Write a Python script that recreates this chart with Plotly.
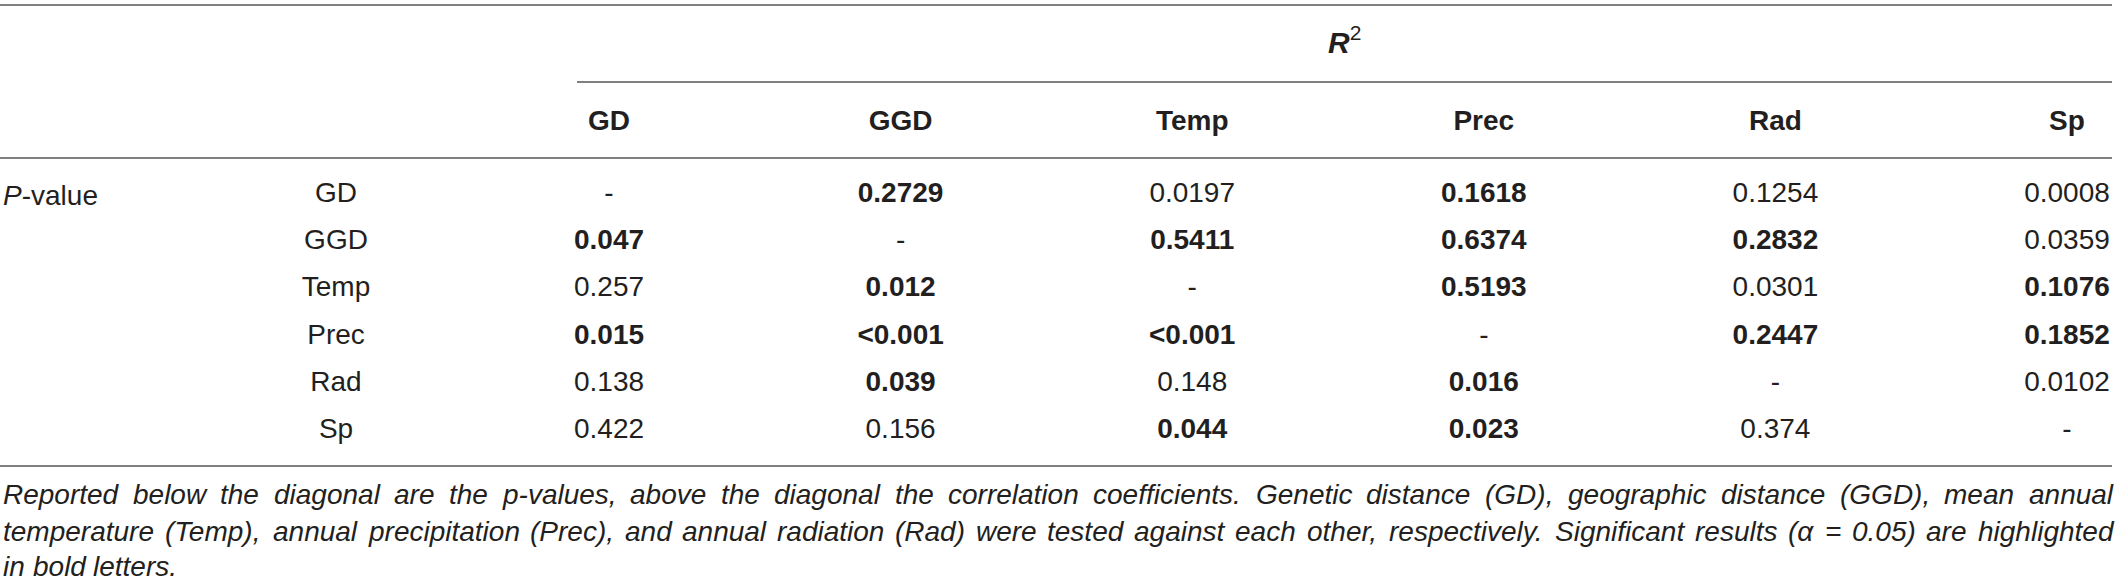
import plotly.graph_objects as go

# variables tested against each other
variables = ["GD", "GGD", "Temp", "Prec", "Rad", "Sp"]

# p-values below the diagonal, R2 above it
row_gd = ["-", "0.2729", "0.0197", "0.1618", "0.1254", "0.0008"]
row_ggd = ["0.047", "-", "0.5411", "0.6374", "0.2832", "0.0359"]
row_temp = ["0.257", "0.012", "-", "0.5193", "0.0301", "0.1076"]
row_prec = ["0.015", "<0.001", "<0.001", "-", "0.2447", "0.1852"]
row_rad = ["0.138", "0.039", "0.148", "0.016", "-", "0.0102"]
row_sp = ["0.422", "0.156", "0.044", "0.023", "0.374", "-"]

# 1 = significant (alpha = 0.05) -> bold
bold_gd = [0, 1, 0, 1, 0, 0]
bold_ggd = [1, 0, 1, 1, 1, 0]
bold_temp = [0, 1, 0, 1, 0, 1]
bold_prec = [1, 1, 1, 0, 1, 1]
bold_rad = [0, 1, 0, 1, 0, 0]
bold_sp = [0, 0, 1, 1, 0, 0]

caption_lines = [
    "Reported below the diagonal are the p-values, above the diagonal the correlation coefficients. "
    "Genetic distance (GD), geographic distance (GGD), mean annual",
    "temperature (Temp), annual precipitation (Prec), and annual radiation (Rad) were tested against "
    "each other, respectively. Significant results (\u03b1 = 0.05) are highlighted",
    "in bold letters.",
]

W, H = 2119, 584
FONT = "Liberation Sans, Arial, sans-serif"
TXT = "#231f20"
RULE = "#808080"
FS = 28

col_x0, col_dx = 609, 291.6
row_y0, row_dy = 195, 47.2
label_x = 336
right_edge = 2112

rows = [row_gd, row_ggd, row_temp, row_prec, row_rad, row_sp]
bolds = [bold_gd, bold_ggd, bold_temp, bold_prec, bold_rad, bold_sp]

fig = go.Figure()

# table cells
xs, ys, texts = [], [], []
for j, (vals, flags) in enumerate(zip(rows, bolds)):
    for i, (v, b) in enumerate(zip(vals, flags)):
        xs.append(col_x0 + i * col_dx)
        ys.append(row_y0 + j * row_dy)
        t = v.replace("<", "&lt;")
        texts.append("<b>%s</b>" % t if b else t)

fig.add_trace(go.Scatter(x=xs, y=ys, text=texts, mode="text",
                         textposition="middle center",
                         textfont=dict(family=FONT, size=FS, color=TXT),
                         hoverinfo="skip", showlegend=False))

# row labels
fig.add_trace(go.Scatter(x=[label_x] * len(variables),
                         y=[row_y0 + j * row_dy for j in range(len(variables))],
                         text=variables, mode="text", textposition="middle center",
                         textfont=dict(family=FONT, size=FS, color=TXT),
                         hoverinfo="skip", showlegend=False))

# column headers
fig.add_trace(go.Scatter(x=[col_x0 + i * col_dx for i in range(len(variables))],
                         y=[123] * len(variables),
                         text=["<b>%s</b>" % v for v in variables], mode="text",
                         textposition="middle center",
                         textfont=dict(family=FONT, size=FS, color=TXT),
                         hoverinfo="skip", showlegend=False))

annotations = [
    dict(x=(col_x0 - 32 + right_edge) / 2, y=40, text="<b><i>R</i></b><sup>2</sup>",
         showarrow=False, xanchor="center", yanchor="middle",
         font=dict(family=FONT, size=30, color=TXT)),
    dict(x=1, y=row_y0, text="<i>P</i>-value", showarrow=False,
         xanchor="left", yanchor="middle", font=dict(family=FONT, size=FS, color=TXT)),
]

# Arial / Liberation Sans advance widths (per 1000 em), used to justify the caption
widths = {" ": 278, "(": 333, ")": 333, ",": 278, "-": 333, ".": 278, "=": 584, "\u03b1": 578}
for ch in "0123456789":
    widths[ch] = 556
for ch, w in zip("ABCDEFGHIJKLMNOPQRSTUVWXYZ",
                 [667, 667, 722, 722, 667, 611, 778, 722, 278, 500, 667, 556, 833,
                  722, 778, 667, 778, 722, 667, 611, 722, 667, 944, 667, 667, 611]):
    widths[ch] = w
for ch, w in zip("abcdefghijklmnopqrstuvwxyz",
                 [556, 556, 500, 556, 556, 278, 556, 556, 222, 222, 500, 222, 833,
                  556, 556, 556, 556, 333, 500, 278, 556, 500, 722, 500, 500, 500]):
    widths[ch] = w


def text_width(s, size):
    return sum(widths.get(c, 556) for c in s) * size / 1000.0


cap_fs = 28
cap_y = [494, 531, 566]
for k, line in enumerate(caption_lines):
    words = line.split(" ")
    last = k == len(caption_lines) - 1
    ww = [text_width(w, cap_fs) for w in words]
    if last or len(words) < 2:
        gap = text_width(" ", cap_fs)
    else:
        gap = (right_edge - 2 - sum(ww)) / (len(words) - 1)
    x = 2
    for w, wl in zip(words, ww):
        annotations.append(dict(x=x, y=cap_y[k], text="<i>%s</i>" % w, showarrow=False,
                                xanchor="left", yanchor="middle", borderpad=0,
                                font=dict(family=FONT, size=cap_fs, color=TXT)))
        x += wl + gap

line_style = dict(color=RULE, width=2)
shapes = [
    dict(type="line", x0=0, x1=right_edge, y0=5, y1=5, line=line_style),
    dict(type="line", x0=col_x0 - 32, x1=right_edge, y0=82, y1=82, line=line_style),
    dict(type="line", x0=0, x1=right_edge, y0=158, y1=158, line=line_style),
    dict(type="line", x0=0, x1=right_edge, y0=466, y1=466, line=line_style),
]

fig.update_layout(
    width=W, height=H,
    margin=dict(l=0, r=0, t=0, b=0),
    paper_bgcolor="white", plot_bgcolor="white",
    xaxis=dict(range=[0, W], visible=False, fixedrange=True),
    yaxis=dict(range=[H, 0], visible=False, fixedrange=True),
    annotations=annotations,
    shapes=shapes,
)

fig.write_html("out.html", config={"displayModeBar": False},
               post_script="document.body.style.margin='0';document.body.style.overflow='hidden';")
